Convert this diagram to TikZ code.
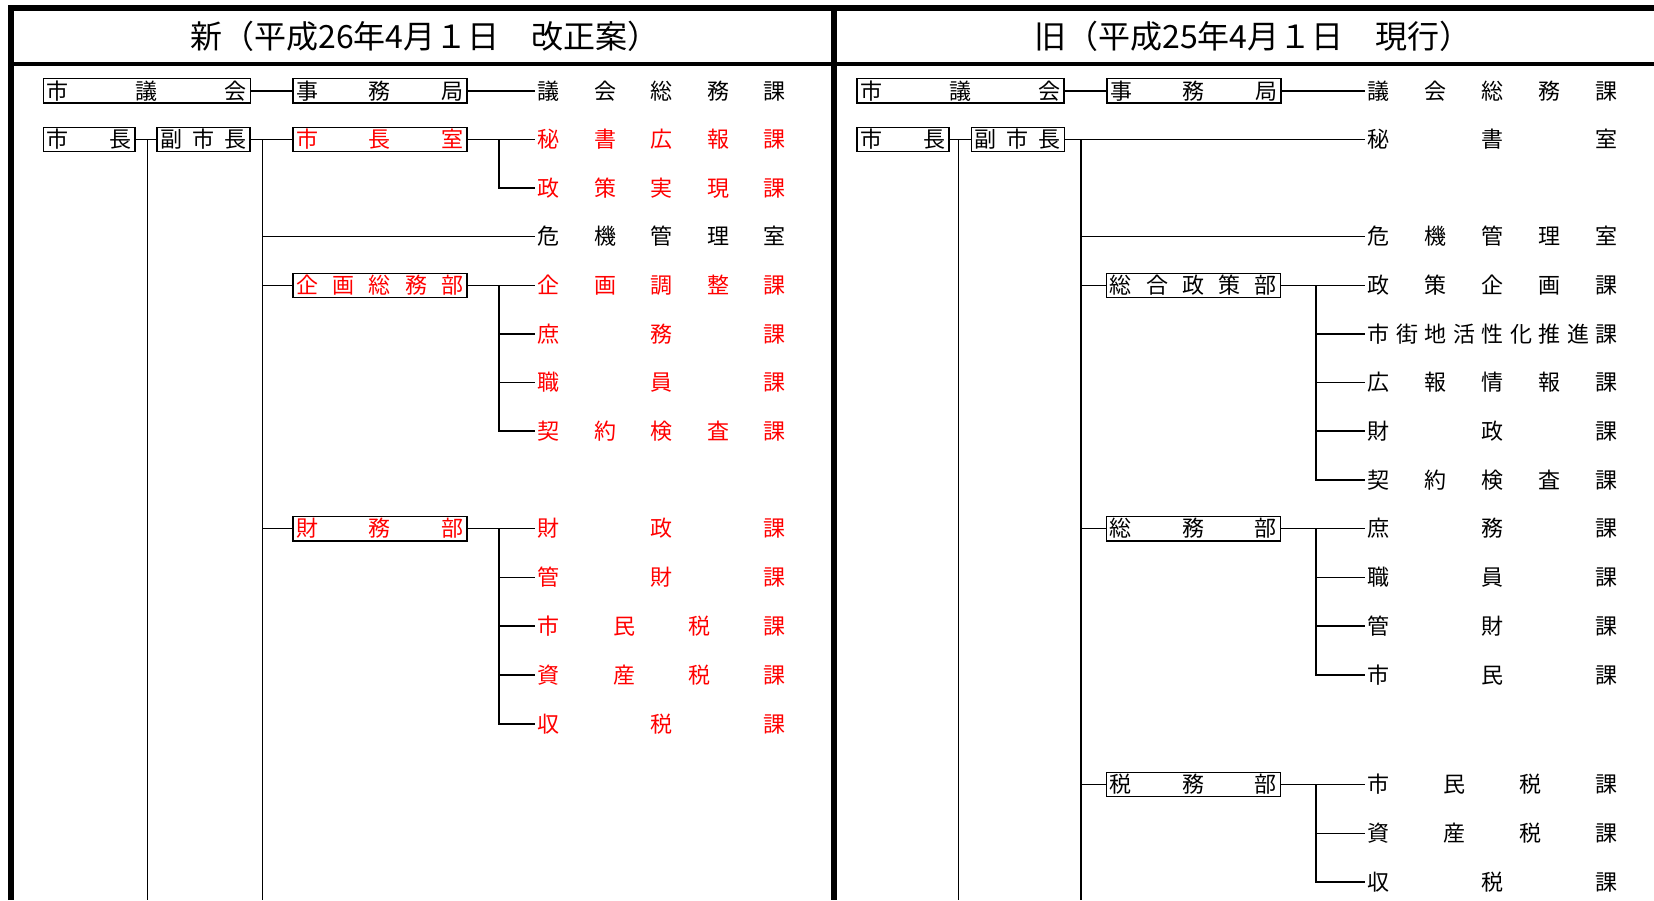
\documentclass[tikz,border=0pt]{standalone}
\usepackage{fontspec}
\setmainfont{Noto Sans CJK JP}
\usepackage{tikz}

\begin{document}
\begin{tikzpicture}[x=1pt, y=-1pt,
		box_style/.style={draw=black, line width=1.3pt, inner xsep=3.5pt, inner ysep=2pt, text height=18.5pt, text depth=2pt, font=\fontsize{22}{22}\selectfont},
		red_box_style/.style={box_style, text=red},
		ka_style/.style={anchor=west, inner ysep=0pt, inner xsep=2.5pt, text height=18.5pt, text depth=2pt, font=\fontsize{22}{22}\selectfont},
		red_ka_style/.style={ka_style, text=red},
		head_style/.style={inner sep=0pt, text height=27pt, text depth=3pt, font=\fontsize{32}{32}\selectfont},
		edge_style/.style={draw=black, line width=1.5pt},
		frame_style/.style={draw=black, line width=6pt}]

		\useasboundingbox (0,0) rectangle (1654,900);
		\fill[white] (0,0) rectangle (1654,900);

		\draw[frame_style] (11,900) -- (11,8) -- (1654,8);
		\draw[frame_style, line width=4pt] (8,63.5) -- (1654,63.5);
		\draw[frame_style] (833.5,8) -- (833.5,900);

		\node[head_style] (Lhead) at (425,36) {新（平成26年4月１日　改正案）};
		\node[head_style] (Rhead) at (1253,36) {旧（平成25年4月１日　現行）};

		% left: new
		\node[box_style] (Lgikai) at (146.75,90.8) {\makebox[200pt][s]{市\hfill 議\hfill 会}};
		\node[box_style] (Ljimu) at (380,90.8) {\makebox[167pt][s]{事\hfill 務\hfill 局}};
		\node[box_style] (Lshicho) at (89.2,139.5) {\makebox[84.5pt][s]{市\hfill 長}};
		\node[box_style] (Lfuku) at (203.5,139.5) {\makebox[86pt][s]{副\hfill 市\hfill 長}};
		\node[red_box_style] (Lshitsu) at (380,139.5) {\makebox[167pt][s]{市\hfill 長\hfill 室}};
		\node[red_box_style] (Lkikaku) at (380,285.5) {\makebox[167pt][s]{企\hfill 画\hfill 総\hfill 務\hfill 部}};
		\node[red_box_style] (Lzaimu) at (380,528.7) {\makebox[167pt][s]{財\hfill 務\hfill 部}};

		\node[ka_style] (Lgisoumu) at (535,90.8) {\makebox[248pt][s]{議\hfill 会\hfill 総\hfill 務\hfill 課}};
		\node[red_ka_style] (Lhisho) at (535,139.5) {\makebox[248pt][s]{秘\hfill 書\hfill 広\hfill 報\hfill 課}};
		\node[red_ka_style] (Lseisaku) at (535,188.2) {\makebox[248pt][s]{政\hfill 策\hfill 実\hfill 現\hfill 課}};
		\node[ka_style] (Lkiki) at (535,236.7) {\makebox[248pt][s]{危\hfill 機\hfill 管\hfill 理\hfill 室}};
		\node[red_ka_style] (Lchosei) at (535,285.5) {\makebox[248pt][s]{企\hfill 画\hfill 調\hfill 整\hfill 課}};
		\node[red_ka_style] (Lshomu) at (535,334) {\makebox[248pt][s]{庶\hfill 務\hfill 課}};
		\node[red_ka_style] (Lshokuin) at (535,382.5) {\makebox[248pt][s]{職\hfill 員\hfill 課}};
		\node[red_ka_style] (Lkeiyaku) at (535,431.2) {\makebox[248pt][s]{契\hfill 約\hfill 検\hfill 査\hfill 課}};
		\node[red_ka_style] (Lzaisei) at (535,528.7) {\makebox[248pt][s]{財\hfill 政\hfill 課}};
		\node[red_ka_style] (Lkanzai) at (535,577.5) {\makebox[248pt][s]{管\hfill 財\hfill 課}};
		\node[red_ka_style] (Lshiminzei) at (535,626) {\makebox[248pt][s]{市\hfill 民\hfill 税\hfill 課}};
		\node[red_ka_style] (Lshisan) at (535,675) {\makebox[248pt][s]{資\hfill 産\hfill 税\hfill 課}};
		\node[red_ka_style] (Lshuzei) at (535,724) {\makebox[248pt][s]{収\hfill 税\hfill 課}};

		\coordinate (Lv1) at (147.3,900);
		\coordinate (Lv2) at (262.5,900);
		\coordinate (Lb) at (499.2,900);

		\draw[edge_style] (Lgikai) -- (Ljimu);
		\draw[edge_style] (Ljimu) -- (Lgisoumu.west);
		\draw[edge_style] (Lshicho) -- (Lfuku);
		\draw[edge_style] (Lfuku) -- (Lshitsu);
		\draw[edge_style] (Lv1 |- Lshicho) -- (Lv1);
		\draw[edge_style] (Lv2 |- Lfuku) -- (Lv2);
		\draw[edge_style] (Lshitsu) -- (Lhisho.west);
		\draw[edge_style] (Lb |- Lshitsu) |- (Lseisaku.west);
		\draw[edge_style] (Lv2 |- Lkiki) -- (Lkiki.west);
		\draw[edge_style] (Lv2 |- Lkikaku) -- (Lkikaku);
		\draw[edge_style] (Lkikaku) -- (Lchosei.west);
		\draw[edge_style] (Lb |- Lkikaku) |- (Lshomu.west);
		\draw[edge_style] (Lb |- Lkikaku) |- (Lshokuin.west);
		\draw[edge_style] (Lb |- Lkikaku) |- (Lkeiyaku.west);
		\draw[edge_style] (Lv2 |- Lzaimu) -- (Lzaimu);
		\draw[edge_style] (Lzaimu) -- (Lzaisei.west);
		\draw[edge_style] (Lb |- Lzaimu) |- (Lkanzai.west);
		\draw[edge_style] (Lb |- Lzaimu) |- (Lshiminzei.west);
		\draw[edge_style] (Lb |- Lzaimu) |- (Lshisan.west);
		\draw[edge_style] (Lb |- Lzaimu) |- (Lshuzei.west);

		% right: current
		\node[box_style] (Rgikai) at (960.6,90.8) {\makebox[200pt][s]{市\hfill 議\hfill 会}};
		\node[box_style] (Rjimu) at (1193.9,90.8) {\makebox[167pt][s]{事\hfill 務\hfill 局}};
		\node[box_style] (Rshicho) at (903,139.5) {\makebox[85pt][s]{市\hfill 長}};
		\node[box_style] (Rfuku) at (1017.9,139.5) {\makebox[86pt][s]{副\hfill 市\hfill 長}};
		\node[box_style] (Rsogo) at (1193.4,285.5) {\makebox[167pt][s]{総\hfill 合\hfill 政\hfill 策\hfill 部}};
		\node[box_style] (Rsomu) at (1193.4,528.7) {\makebox[167pt][s]{総\hfill 務\hfill 部}};
		\node[box_style] (Rzeimu) at (1193.4,784.5) {\makebox[167pt][s]{税\hfill 務\hfill 部}};

		\node[ka_style] (Rgisoumu) at (1365,90.8) {\makebox[250pt][s]{議\hfill 会\hfill 総\hfill 務\hfill 課}};
		\node[ka_style] (Rhisho) at (1365,139.5) {\makebox[250pt][s]{秘\hfill 書\hfill 室}};
		\node[ka_style] (Rkiki) at (1365,236.7) {\makebox[250pt][s]{危\hfill 機\hfill 管\hfill 理\hfill 室}};
		\node[ka_style] (Rkikaku) at (1365,285.5) {\makebox[250pt][s]{政\hfill 策\hfill 企\hfill 画\hfill 課}};
		\node[ka_style] (Rshigai) at (1365,334) {\makebox[250pt][s]{市\hfill 街\hfill 地\hfill 活\hfill 性\hfill 化\hfill 推\hfill 進\hfill 課}};
		\node[ka_style] (Rkoho) at (1365,382.5) {\makebox[250pt][s]{広\hfill 報\hfill 情\hfill 報\hfill 課}};
		\node[ka_style] (Rzaisei) at (1365,431.2) {\makebox[250pt][s]{財\hfill 政\hfill 課}};
		\node[ka_style] (Rkeiyaku) at (1365,480) {\makebox[250pt][s]{契\hfill 約\hfill 検\hfill 査\hfill 課}};
		\node[ka_style] (Rshomu) at (1365,528.7) {\makebox[250pt][s]{庶\hfill 務\hfill 課}};
		\node[ka_style] (Rshokuin) at (1365,577.5) {\makebox[250pt][s]{職\hfill 員\hfill 課}};
		\node[ka_style] (Rkanzai) at (1365,626) {\makebox[250pt][s]{管\hfill 財\hfill 課}};
		\node[ka_style] (Rshimin) at (1365,675) {\makebox[250pt][s]{市\hfill 民\hfill 課}};
		\node[ka_style] (Rshiminzei) at (1365,784.5) {\makebox[250pt][s]{市\hfill 民\hfill 税\hfill 課}};
		\node[ka_style] (Rshisan) at (1365,833.3) {\makebox[250pt][s]{資\hfill 産\hfill 税\hfill 課}};
		\node[ka_style] (Rshuzei) at (1365,881.8) {\makebox[250pt][s]{収\hfill 税\hfill 課}};

		\coordinate (Rv1) at (958.7,900);
		\coordinate (Rv2) at (1081.2,900);
		\coordinate (Rb) at (1316.1,900);

		\draw[edge_style] (Rgikai) -- (Rjimu);
		\draw[edge_style] (Rjimu) -- (Rgisoumu.west);
		\draw[edge_style] (Rshicho) -- (Rfuku);
		\draw[edge_style] (Rfuku) -- (Rhisho.west);
		\draw[edge_style] (Rv1 |- Rshicho) -- (Rv1);
		\draw[edge_style] (Rv2 |- Rfuku) -- (Rv2);
		\draw[edge_style] (Rv2 |- Rkiki) -- (Rkiki.west);
		\draw[edge_style] (Rv2 |- Rsogo) -- (Rsogo);
		\draw[edge_style] (Rsogo) -- (Rkikaku.west);
		\draw[edge_style] (Rb |- Rsogo) |- (Rshigai.west);
		\draw[edge_style] (Rb |- Rsogo) |- (Rkoho.west);
		\draw[edge_style] (Rb |- Rsogo) |- (Rzaisei.west);
		\draw[edge_style] (Rb |- Rsogo) |- (Rkeiyaku.west);
		\draw[edge_style] (Rv2 |- Rsomu) -- (Rsomu);
		\draw[edge_style] (Rsomu) -- (Rshomu.west);
		\draw[edge_style] (Rb |- Rsomu) |- (Rshokuin.west);
		\draw[edge_style] (Rb |- Rsomu) |- (Rkanzai.west);
		\draw[edge_style] (Rb |- Rsomu) |- (Rshimin.west);
		\draw[edge_style] (Rv2 |- Rzeimu) -- (Rzeimu);
		\draw[edge_style] (Rzeimu) -- (Rshiminzei.west);
		\draw[edge_style] (Rb |- Rzeimu) |- (Rshisan.west);
		\draw[edge_style] (Rb |- Rzeimu) |- (Rshuzei.west);

\end{tikzpicture}
\end{document}
